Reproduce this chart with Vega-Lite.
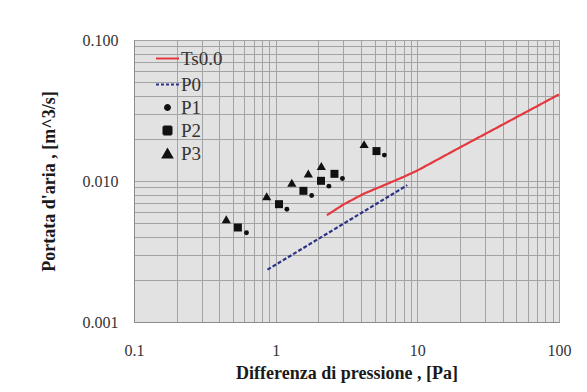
{
  "$schema": "https://vega.github.io/schema/vega-lite/v6.json",
  "width": 425,
  "height": 282,
  "autosize": {"type": "none"},
  "padding": {"left": 134, "top": 40, "right": 28, "bottom": 70},
  "background": "white",
  "config": {
    "view": {"fill": "#e2e2e2", "stroke": "#9a9a9a"},
    "font": "Liberation Serif",
    "axis": {
      "labelFont": "Liberation Serif",
      "labelFontSize": 16,
      "labelColor": "#333333",
      "titleFont": "Liberation Serif",
      "titleFontSize": 18,
      "titleFontWeight": "bold",
      "titleColor": "#1a1a1a",
      "ticks": false,
      "gridColor": "#a3a3a3",
      "gridWidth": 1,
      "gridOpacity": 1,
      "domainColor": "#8a8a8a"
    },
    "legend": {
      "labelFont": "Liberation Serif",
      "labelFontSize": 19,
      "labelColor": "#333333",
      "labelOffset": 1,
      "rowPadding": 3,
      "padding": 0
    }
  },
  "data": {
    "values": [
      {"series": "Ts0.0", "x": 2.3, "y": 0.00572},
      {"series": "Ts0.0", "x": 3.0, "y": 0.0068},
      {"series": "Ts0.0", "x": 4.16, "y": 0.0081},
      {"series": "Ts0.0", "x": 5.2, "y": 0.0089},
      {"series": "Ts0.0", "x": 6.37, "y": 0.0097},
      {"series": "Ts0.0", "x": 8.0, "y": 0.0107},
      {"series": "Ts0.0", "x": 10.06, "y": 0.0119},
      {"series": "Ts0.0", "x": 20, "y": 0.0173},
      {"series": "Ts0.0", "x": 50, "y": 0.0283},
      {"series": "Ts0.0", "x": 100, "y": 0.0411},
      {"series": "P0", "x": 0.875, "y": 0.00235},
      {"series": "P0", "x": 8.49, "y": 0.00934},
      {"series": "P1", "x": 0.622, "y": 0.00429},
      {"series": "P1", "x": 1.2, "y": 0.0063},
      {"series": "P1", "x": 1.795, "y": 0.00789},
      {"series": "P1", "x": 2.376, "y": 0.00919},
      {"series": "P1", "x": 2.96, "y": 0.01042},
      {"series": "P1", "x": 5.85, "y": 0.01526},
      {"series": "P2", "x": 0.541, "y": 0.00468},
      {"series": "P2", "x": 1.056, "y": 0.00685},
      {"series": "P2", "x": 1.57, "y": 0.00852},
      {"series": "P2", "x": 2.09, "y": 0.01003},
      {"series": "P2", "x": 2.6, "y": 0.01124},
      {"series": "P2", "x": 5.15, "y": 0.0163},
      {"series": "P3", "x": 0.448, "y": 0.00536},
      {"series": "P3", "x": 0.864, "y": 0.0078},
      {"series": "P3", "x": 1.3, "y": 0.0097},
      {"series": "P3", "x": 1.7, "y": 0.0113},
      {"series": "P3", "x": 2.1, "y": 0.0128},
      {"series": "P3", "x": 4.21, "y": 0.01826}
    ]
  },
  "encoding": {
    "x": {
      "field": "x",
      "type": "quantitative",
      "scale": {"type": "log", "domain": [0.1, 100], "nice": false},
      "axis": {
        "title": "Differenza di pressione , [Pa]",
        "values": [0.1, 0.2, 0.3, 0.4, 0.5, 0.6, 0.7, 0.8, 0.9, 1, 2, 3, 4, 5, 6, 7, 8, 9, 10, 20, 30, 40, 50, 60, 70, 80, 90, 100],
        "labelExpr": "datum.value == 0.1 ? '0.1' : datum.value == 1 ? '1' : datum.value == 10 ? '10' : datum.value == 100 ? '100' : ''",
        "labelPadding": 20,
        "titlePadding": 6,
        "labelFlush": false
      }
    },
    "y": {
      "field": "y",
      "type": "quantitative",
      "scale": {"type": "log", "domain": [0.001, 0.1], "nice": false},
      "axis": {
        "title": "Portata d'aria , [m^3/s]",
        "values": [0.001, 0.002, 0.003, 0.004, 0.005, 0.006, 0.007, 0.008, 0.009, 0.01, 0.02, 0.03, 0.04, 0.05, 0.06, 0.07, 0.08, 0.09, 0.1],
        "labelExpr": "datum.value == 0.001 ? '0.001' : datum.value == 0.01 ? '0.010' : datum.value == 0.1 ? '0.100' : ''",
        "labelPadding": 16,
        "titlePadding": 24,
        "labelFlush": false
      }
    }
  },
  "layer": [
    {
      "transform": [{"filter": "datum.series == 'Ts0.0' || datum.series == 'P0'"}],
      "mark": {"type": "line", "strokeWidth": 2.2},
      "encoding": {
        "color": {
          "field": "series",
          "type": "nominal",
          "scale": {"domain": ["Ts0.0", "P0", "P1", "P2", "P3"], "range": ["#e5383e", "#2c3285", "#111111", "#111111", "#111111"]},
          "legend": {
            "title": null,
            "orient": "none",
            "legendX": 21,
            "legendY": 6,
            "encode": {
              "symbols": {
                "update": {
                  "fill": {"signal": "datum.value == 'Ts0.0' || datum.value == 'P0' ? 'transparent' : '#111111'"},
                  "stroke": {"signal": "datum.value == 'Ts0.0' ? '#e5383e' : datum.value == 'P0' ? '#2c3285' : 'transparent'"},
                  "strokeWidth": {"value": 2},
                  "strokeDash": {"signal": "datum.value == 'P0' ? [3, 2] : [1, 0]"},
                  "opacity": {"value": 1}
                }
              }
            }
          }
        },
        "strokeDash": {
          "field": "series",
          "type": "nominal",
          "scale": {"domain": ["Ts0.0", "P0"], "range": [[1, 0], [4, 2]]},
          "legend": null
        }
      }
    },
    {
      "transform": [{"filter": "datum.series == 'P1' || datum.series == 'P2' || datum.series == 'P3'"}],
      "mark": {"type": "point", "filled": true, "opacity": 1},
      "encoding": {
        "color": {"field": "series", "type": "nominal"},
        "shape": {
          "field": "series",
          "type": "nominal",
          "scale": {"domain": ["Ts0.0", "P0", "P1", "P2", "P3"], "range": ["M-1,0H1", "M-1,0H1", "circle", "square", "triangle-up"]},
          "legend": {"title": null, "orient": "none", "legendX": 21, "legendY": 6}
        },
        "size": {
          "field": "series",
          "type": "nominal",
          "scale": {"type": "ordinal", "domain": ["Ts0.0", "P0", "P1", "P2", "P3"], "range": [529, 529, 24, 64, 85]},
          "legend": {"title": null, "orient": "none", "legendX": 21, "legendY": 6}
        }
      }
    }
  ]
}
